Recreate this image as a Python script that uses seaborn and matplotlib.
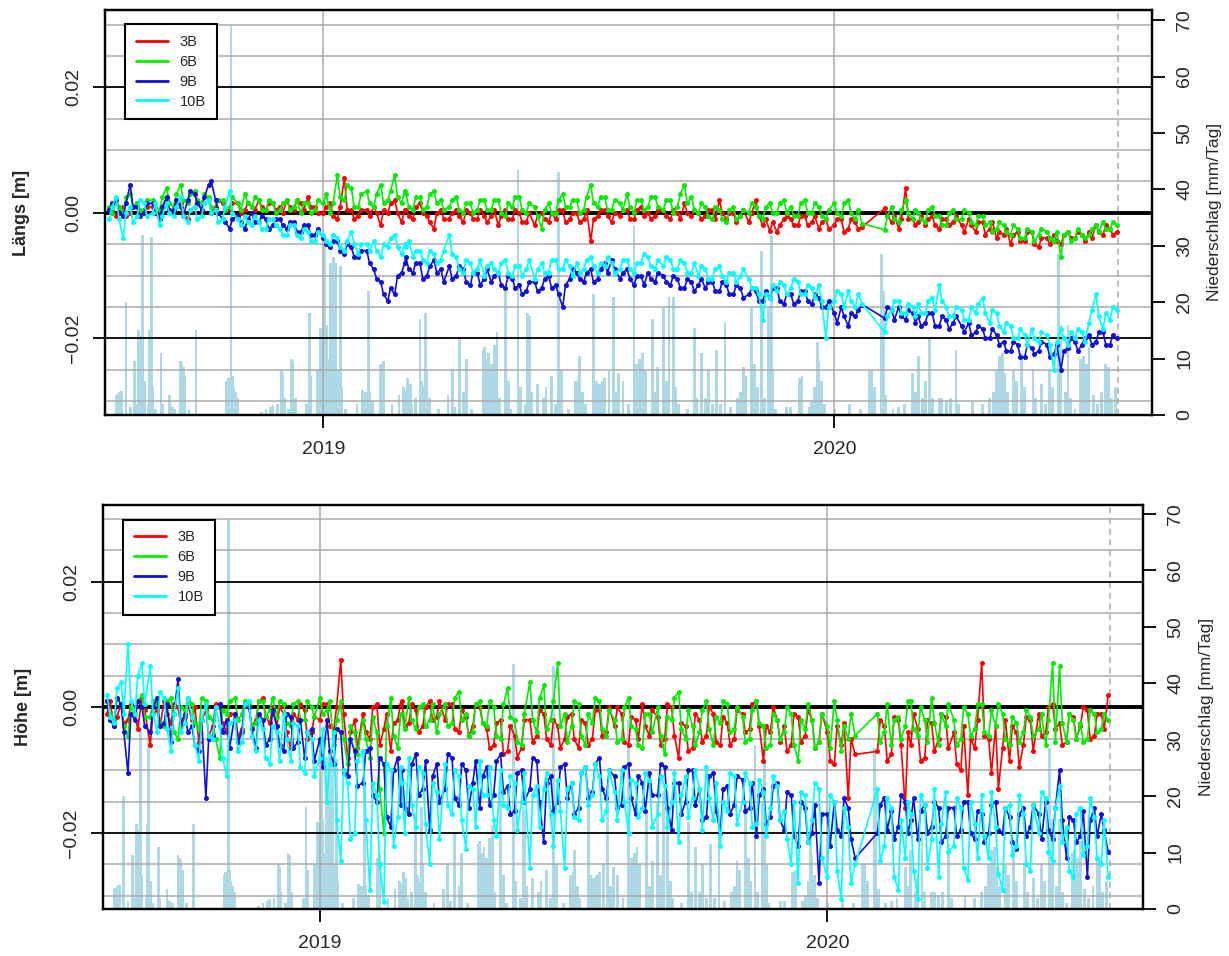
import numpy as np
import pandas as pd
import matplotlib
matplotlib.use("Agg")
import matplotlib.pyplot as plt
import seaborn as sns
from matplotlib.lines import Line2D

nan = np.nan

# sampling grid: twelve readings per month
months = pd.date_range("2018-08-01", "2020-07-01", freq="MS")
day_offsets = [0, 2, 5, 7, 10, 12, 15, 17, 20, 22, 25, 27]

sensors = ["3B", "6B", "9B", "10B"]
sensor_colors = {"3B": "#FF0000", "6B": "#00EE00", "9B": "#1010D8", "10B": "#00FFFF"}

# ---- Längs [mm], one row per month (2018-08 ... 2020-07) ----
laengs_3b = [
    0.5, 1.0, -0.5, 0.5, 1.0, -0.5, 0.0, 1.0, 1.5, 0.0, 0.5, 1.0,
    1.0, 0.0, -0.5, 1.0, 2.0, 0.5, 0.5, 1.5, 1.5, 0.0, -1.0, 0.5,
    1.0, 2.0, 0.5, 1.5, 2.0, 0.0, 1.0, 2.0, 1.5, 0.5, 0.5, 1.5,
    1.5, 0.0, 0.5, 1.5, 1.0, 0.5, 2.0, 1.0, 0.5, 1.5, 1.5, 0.5,
    1.0, 0.0, 2.0, 1.0, 0.5, 2.0, 1.5, 0.5, 2.5, 1.0, 1.0, 0.0,
    0.0, 1.0, 1.5, -0.5, -1.0, 1.0, 5.5, 0.5, 0.5, -1.0, -0.5, 0.5,
    0.5, -0.5, 1.0, 0.0, -2.0, 0.5, 0.0, 1.5, 2.0, 0.0, -1.5, 0.5,
    0.5, -0.5, -1.0, 1.0, 1.5, 0.0, -0.5, -1.5, -2.5, 0.0, 0.5, -1.0,
    -1.0, 0.0, 0.5, -0.5, -1.5, 0.5, 0.0, -1.0, -1.0, 0.5, -0.5, -1.5,
    -0.5, 0.5, -2.0, -0.5, 0.5, -1.0, -1.0, 0.5, 0.0, -1.5, -1.5, 0.0,
    -2.0, -0.5, 0.0, -1.0, -1.5, 0.0, -1.0, 0.5, 0.5, -1.5, -1.0, 0.0,
    0.0, -1.5, -1.0, 0.5, -4.5, -1.0, -0.5, 0.5, 0.5, -0.5, -1.5, 0.0,
    -0.5, 0.5, 0.5, -1.0, -1.0, 0.5, 1.0, -0.5, 0.0, -1.0, -0.5, 0.5,
    0.5, -0.5, -1.0, 0.5, 0.0, -1.0, 1.5, 0.0, -0.5, 0.5, 0.0, -1.0,
    -0.5, 0.5, 0.5, -1.0, 2.0, 0.0, -1.0, 0.0, 0.0, -1.5, -0.5, 0.5,
    -1.5, 0.0, 2.0, -0.5, -2.0, -1.0, -2.9, -1.5, -3.0, -2.0, -1.0, -0.5,
    -1.0, -2.0, -2.0, -0.5, -0.5, -2.0, -1.5, -0.5, -2.5, -1.5, -1.0, -2.5,
    -2.0, -1.0, -1.0, -3.0, -2.5, -1.0, -1.5, -2.5, -2.2, nan, nan, nan,
    nan, nan, 0.7, -0.5, -1.5, -0.5, -2.5, -1.0, 4.0, -1.0, -1.0, -2.0,
    -1.5, -0.5, -2.0, -1.0, -0.5, -2.0, -2.5, -1.0, -1.0, -2.0, -1.5, -0.5,
    -2.0, -3.0, -1.0, -2.0, -3.0, -1.5, -1.5, -3.5, -2.5, -1.5, -4.0, -3.0,
    -3.5, -2.5, -5.0, -3.5, -3.0, -4.5, -4.5, -3.0, -3.0, -5.0, -5.5, -4.0,
    -4.0, -5.0, -3.5, -4.5, -5.0, -3.5, -3.0, -4.0, -4.0, -3.0, -3.5, -4.5,
    -3.0, -4.0, -2.0, -3.0, -3.5, -2.0, -2.5, -3.5, -3.0, nan, nan, nan,
]
laengs_6b = [
    1.0, 0.0, 2.0, 1.0, 0.0, 2.5, 3.0, 1.0, 1.5, 0.5, 0.5, 2.0,
    2.0, 1.0, 0.5, 2.5, 4.0, 1.5, 1.0, 3.0, 4.5, 2.0, 1.5, 3.0,
    3.5, 2.0, 1.5, 3.0, 2.5, 1.0, 0.5, 2.0, 2.0, 0.5, 1.0, 2.5,
    1.5, 0.5, 3.0, 1.5, 1.0, 2.5, 2.0, 0.5, 0.5, 2.0, 1.5, 0.0,
    0.5, 1.5, 2.0, 0.5, 1.0, 2.0, 0.0, 1.5, 1.5, 0.0, 0.5, 2.0,
    1.5, 3.0, 0.0, 1.5, 6.0, 2.5, 2.0, 4.5, 4.0, 1.0, 1.0, 3.0,
    3.5, 1.5, 1.0, 3.0, 4.5, 1.5, 2.0, 3.5, 6.0, 2.5, 1.5, 3.5,
    3.0, 1.0, 0.5, 2.5, 2.5, 0.5, 1.0, 3.0, 3.5, 1.5, 2.0, 0.5,
    1.0, 2.0, 2.5, 0.5, 0.0, 1.5, 1.5, 0.0, 0.5, 2.0, 2.0, 0.5,
    0.5, 2.0, 2.0, 0.0, -0.5, 1.5, 1.0, 2.5, 2.5, 0.5, 0.0, 1.5,
    1.0, -0.5, -2.5, 0.5, 1.5, 0.0, 0.0, 2.0, 3.0, 1.0, 1.0, 2.0,
    2.0, 0.0, 0.5, 2.5, 4.5, 1.5, 1.0, 2.5, 2.5, 0.5, 0.5, 2.0,
    1.5, 0.5, 3.0, 1.0, 0.0, 2.0, 2.0, 0.5, 1.0, 2.5, 2.5, 1.0,
    0.5, 2.0, 2.0, 0.0, 1.0, 3.0, 4.5, 1.5, 2.5, 0.5, 0.0, 1.5,
    1.0, -0.5, -1.0, 1.0, 0.5, -1.0, -1.5, 0.5, 1.0, -1.0, -0.5, 0.5,
    0.0, 1.5, 1.0, -0.5, -1.0, 1.0, 1.5, 0.0, 0.0, 1.5, 2.0, 0.0,
    1.0, -0.5, -0.5, 1.5, 2.0, 0.0, 0.0, 1.5, 1.0, -0.5, -1.0, 0.5,
    1.5, 0.0, -0.5, 1.5, 2.0, 0.0, -1.0, 0.5, -1.7, nan, nan, nan,
    nan, nan, -2.7, -0.5, 1.0, -1.0, -1.5, 0.5, 2.0, 0.0, -1.0, 0.5,
    0.0, -1.0, -1.5, 0.5, 1.0, -0.5, -0.5, -2.0, -2.0, 0.0, 0.5, -1.0,
    -1.0, 0.5, 0.0, -1.5, -2.0, -0.5, -0.5, -2.0, -1.5, -3.0, -2.5, -1.5,
    -2.0, -3.0, -3.5, -2.0, -2.5, -4.0, -4.0, -2.5, -3.0, -4.5, -3.5, -2.5,
    -3.0, -4.0, -4.5, -3.0, -7.0, -3.5, -3.0, -4.5, -4.0, -2.5, -3.5, -4.0,
    -3.5, -2.5, -2.0, -3.0, -1.5, -2.5, -2.5, -1.5, -2.0, nan, nan, nan,
]
laengs_9b = [
    0.5, 1.5, 2.0, 0.0, -0.5, 1.5, 4.5, 1.0, 1.0, -0.5, 0.0, 1.5,
    1.5, 0.0, -1.0, 1.0, 2.5, 0.5, 0.5, 2.0, 1.0, -0.5, 2.0, 3.5,
    3.0, 1.5, 0.5, 2.5, 4.5, 5.0, 2.0, 0.0, -1.0, -1.5, -2.5, -1.0,
    -0.5, -1.5, -2.5, -1.0, 0.0, -1.5, -1.5, -0.5, -1.0, -2.5, -2.0, -1.0,
    -1.0, -2.0, -2.5, -1.5, -1.5, -3.0, -3.0, -2.0, -2.0, -3.5, -3.5, -2.5,
    -4.0, -5.0, -5.5, -4.5, -4.5, -6.0, -6.5, -5.0, -5.5, -7.0, -7.0, -6.0,
    -6.0, -8.0, -9.0, -10.5, -11.0, -13.0, -14.0, -12.0, -13.0, -10.0, -9.5, -8.0,
    -7.0, -9.0, -9.5, -8.0, -8.0, -10.5, -10.0, -8.5, -7.5, -9.5, -9.0, -11.0,
    -8.5, -10.5, -10.0, -8.5, -9.0, -11.0, -11.5, -9.5, -9.5, -11.5, -10.5, -9.0,
    -11.0, -10.0, -9.5, -11.5, -12.0, -10.0, -10.5, -12.0, -11.5, -13.0, -12.5, -11.0,
    -11.0, -12.5, -12.0, -10.5, -10.0, -12.0, -11.5, -13.0, -15.0, -11.5, -10.5, -9.0,
    -9.5, -10.5, -11.0, -9.5, -9.0, -11.0, -10.5, -9.0, -8.0, -9.5, -7.5, -9.0,
    -10.5, -9.5, -9.0, -10.5, -11.5, -10.0, -10.0, -11.5, -9.5, -10.5, -11.0, -9.5,
    -10.0, -11.0, -11.5, -10.0, -10.5, -12.0, -12.0, -10.5, -11.0, -12.5, -11.5, -10.5,
    -12.0, -11.0, -11.0, -12.5, -12.5, -11.0, -11.5, -13.0, -13.0, -11.5, -12.0, -13.5,
    -13.0, -12.0, -12.5, -14.0, -14.0, -12.5, -13.5, -12.0, -12.0, -14.0, -14.5, -13.0,
    -13.0, -14.5, -14.0, -12.5, -12.5, -14.0, -14.5, -13.0, -13.5, -15.0, -15.0, -14.0,
    -16.0, -17.5, -15.0, -16.5, -18.0, -16.0, -16.5, -15.5, -14.6, nan, nan, nan,
    nan, nan, -16.8, -15.0, -15.5, -17.0, -15.0, -16.5, -17.0, -15.5, -16.0, -17.5,
    -16.5, -18.0, -17.5, -16.0, -16.0, -18.0, -18.0, -16.5, -17.0, -18.5, -17.5, -16.5,
    -18.0, -19.0, -17.5, -19.5, -19.0, -18.0, -18.5, -20.0, -20.0, -18.5, -19.5, -21.0,
    -20.5, -22.0, -22.0, -20.5, -21.0, -23.0, -23.0, -21.0, -21.5, -22.5, -22.0, -20.5,
    -21.0, -23.0, -22.5, -21.0, -25.0, -22.0, -21.5, -20.0, -20.5, -22.0, -21.0, -20.0,
    -19.5, -21.0, -20.5, -19.0, -19.0, -21.0, -21.0, -19.5, -20.0, nan, nan, nan,
]
laengs_10b = [
    -1.0, 1.0, 2.5, -1.0, -4.0, 0.0, 1.0, -1.5, -0.5, 2.0, 1.5, -0.5,
    0.0, 1.5, -2.0, -0.5, 1.5, 0.0, -0.5, 1.0, 2.5, -0.5, -1.5, 0.5,
    1.0, -1.0, -0.5, 1.5, 2.0, 0.0, 0.5, -1.5, -1.0, 1.0, 3.5, 0.0,
    -1.0, -2.0, -0.5, -1.5, -2.0, -0.5, -1.5, -2.5, -2.5, -1.0, -1.0, -2.0,
    -2.5, -3.5, -3.5, -2.0, -2.0, -3.5, -4.0, -2.5, -3.0, -4.5, -4.5, -3.0,
    -3.5, -4.5, -5.0, -3.5, -4.0, -5.5, -6.0, -4.5, -3.0, -5.0, -6.5, -5.0,
    -5.0, -6.0, -4.5, -6.0, -7.0, -5.0, -5.5, -4.0, -3.5, -5.5, -6.5, -5.0,
    -5.5, -4.5, -7.0, -6.0, -6.0, -7.5, -8.0, -6.0, -6.5, -8.0, -7.5, -6.0,
    -3.5, -6.5, -7.0, -9.0, -9.5, -7.5, -8.0, -9.5, -9.0, -7.5, -10.0, -8.5,
    -8.0, -9.0, -9.5, -8.0, -7.5, -9.5, -10.0, -8.5, -8.5, -10.0, -9.0, -7.5,
    -10.5, -9.0, -8.0, -9.5, -9.5, -7.5, -7.5, -9.0, -9.0, -7.5, -8.5, -10.0,
    -8.0, -9.5, -9.0, -7.5, -7.0, -8.5, -9.5, -8.0, -8.5, -7.0, -8.0, -9.5,
    -9.0, -7.5, -7.5, -9.0, -9.5, -8.0, -8.0, -6.5, -7.0, -8.5, -9.0, -7.5,
    -8.5, -7.0, -7.5, -9.0, -9.0, -7.5, -8.0, -9.5, -9.5, -8.0, -10.0, -8.5,
    -9.0, -10.5, -10.5, -9.0, -8.5, -10.0, -11.0, -9.5, -9.5, -11.0, -10.0, -9.0,
    -10.5, -12.0, -12.0, -13.0, -17.0, -13.0, -13.5, -11.5, -12.5, -11.0, -11.5, -13.0,
    -12.0, -10.5, -11.0, -13.0, -13.0, -11.5, -12.0, -13.5, -11.5, -14.0, -20.0, -15.0,
    -14.0, -12.5, -13.0, -15.0, -12.5, -14.0, -15.0, -13.0, -14.5, nan, nan, nan,
    nan, nan, -19.0, -16.5, -15.5, -14.0, -14.0, -16.0, -16.0, -14.5, -15.0, -16.5,
    -14.5, -16.0, -16.0, -14.0, -13.5, -15.5, -11.5, -14.0, -15.0, -16.5, -16.5, -15.0,
    -15.5, -17.0, -17.0, -15.0, -16.0, -14.5, -13.5, -16.0, -17.5, -15.5, -16.0, -18.0,
    -19.0, -17.5, -18.0, -20.0, -20.0, -18.5, -19.5, -21.0, -18.5, -20.0, -20.5, -19.0,
    -19.5, -21.0, -25.0, -20.5, -18.5, -20.0, -21.0, -19.0, -20.0, -18.5, -19.0, -20.5,
    -17.5, -15.5, -13.0, -16.5, -18.5, -16.0, -17.0, -15.0, -15.5, nan, nan, nan,
]

# ---- Höhe [mm], one row per month (2018-08 ... 2020-07) ----
hoehe_3b = [
    -1.0, 1.0, -3.0, -1.5, 0.5, -2.5, -2.0, 0.5, -1.0, -3.5, 1.5, -0.5,
    -6.0, -1.0, -0.5, -3.0, 1.0, -1.0, -2.5, 0.5, 0.0, -3.0, -1.5, 0.5,
    -2.0, 0.0, -5.5, -2.0, -0.5, -4.5, -3.0, 0.5, 0.5, -2.5, -4.0, -1.0,
    -1.0, -4.5, -3.5, 0.5, 0.0, -3.0, -2.0, 1.0, 1.5, -1.5, -2.5, 0.0,
    -3.0, 0.0, -1.0, -4.0, -6.5, -1.0, -2.0, 0.5, -0.5, -5.0, -4.0, -1.5,
    -2.0, 0.5, 0.5, -3.0, -3.5, 0.0, 7.5, -1.0, -8.0, -4.0, -2.0, -6.5,
    -1.0, -4.0, -5.0, 0.0, 0.5, -6.0, -3.5, -1.0, -7.0, -2.5, -2.0, 0.5,
    1.0, -3.0, -2.5, 0.5, -0.5, -4.0, -3.0, 0.0, 1.0, -2.0, -1.5, 1.0,
    -2.0, 0.5, 0.5, -3.5, -4.0, -0.5, -1.5, -4.5, -3.0, 0.5, 0.0, -2.5,
    -3.5, -6.5, -6.0, -2.5, -2.0, -7.5, -7.0, -3.0, -4.5, -8.0, -6.5, -2.0,
    -2.0, -5.5, -4.5, -0.5, -1.0, -5.0, -6.0, -2.0, -3.0, -6.5, -5.0, -1.5,
    -1.0, -5.0, -6.5, -2.0, -2.5, -6.0, -5.0, -0.5, -0.5, -4.5, -4.0, 0.0,
    -3.0, 0.0, -1.0, -5.5, -6.0, -1.5, -2.0, -5.0, 0.5, -3.0, -4.5, -0.5,
    -1.5, -6.0, -5.0, 0.5, 0.0, -4.5, -8.0, -2.5, -3.0, -7.0, -6.5, -1.0,
    -2.0, -5.5, -4.5, 0.0, -1.0, -5.5, -6.0, -1.5, -2.5, -6.0, -5.0, -0.5,
    -1.0, -4.0, -3.5, 0.5, 1.0, -3.0, -8.5, -3.0, -4.0, 0.0, -2.0, -5.5,
    -3.0, -7.0, -6.0, -1.0, -1.5, -5.5, -4.5, -0.5, -2.0, -6.5, -5.5, -1.0,
    -4.0, -8.5, -9.0, -3.0, -6.0, -2.5, -14.5, -5.0, -7.5, nan, nan, nan,
    nan, nan, -7.0, -2.0, -3.0, -8.5, -7.5, -1.5, -2.0, -6.0, -16.0, -4.0,
    -6.0, -1.0, -3.5, -8.5, -8.0, -2.0, -2.5, -7.0, -5.0, -1.0, -1.5, -6.5,
    -4.0, -9.0, -10.0, -3.0, -14.0, -5.0, -6.5, -2.0, 7.0, -4.5, -5.0, -10.5,
    -3.0, -13.0, -6.5, -2.0, -8.5, -3.0, -4.0, -9.5, -6.0, -1.5, -2.0, -7.0,
    -1.0, -4.5, -4.0, 0.0, 0.5, -3.5, -2.5, -6.0, -5.5, -1.0, -1.5, -5.0,
    -3.0, 0.0, -0.5, -5.0, -4.5, -1.0, -1.0, -3.5, 2.0, nan, nan, nan,
]
hoehe_6b = [
    1.0, -1.0, -2.0, 1.5, 0.5, -3.0, -4.5, 0.0, -1.0, 1.0, 2.0, -1.5,
    -1.5, 1.0, 0.5, -2.5, -3.0, 1.0, 1.5, -4.0, -5.0, 0.0, -0.5, 1.5,
    0.5, -2.5, -3.5, 1.5, 1.0, -1.5, -2.0, -5.0, -8.0, -0.5, -1.0, 1.0,
    1.5, -2.0, -1.0, 1.0, 0.5, -3.0, -2.5, 1.0, 1.0, -1.5, -0.5, 1.5,
    -1.5, 1.0, 0.5, -2.5, -3.0, 0.5, 1.0, -2.0, -2.0, 1.0, 0.0, -1.5,
    1.5, -1.0, -0.5, 1.0, -6.0, -2.0, 1.0, -5.0, -9.0, -3.0, -4.0, -7.5,
    -2.0, -5.0, -8.0, -1.5, -4.0, -13.0, -20.0, -3.0, 1.5, -4.5, -6.5, -1.0,
    -1.0, -3.5, 1.5, -2.0, -3.5, 0.0, 0.5, -3.0, -2.0, 0.5, -4.0, -1.0,
    0.5, -3.0, -2.5, 1.5, 2.5, -2.0, -1.0, -4.5, -4.0, 0.5, 1.0, -2.5,
    -3.0, 1.0, 0.0, -4.5, -5.0, 0.5, 3.0, -1.5, -2.0, -5.5, -6.0, -1.0,
    4.0, -2.0, -4.0, 1.5, 3.5, -3.5, -2.0, 1.0, 7.0, -3.0, -1.0, -5.5,
    -3.0, 1.0, 0.5, -4.5, -6.0, -1.0, -2.5, 1.5, 1.0, -3.5, -4.5, -0.5,
    -2.0, -5.5, -5.0, 0.0, 1.5, -3.0, -3.5, -6.0, -6.5, -1.0, -1.0, -4.0,
    0.0, -4.5, -7.5, -1.5, -2.0, 1.5, 2.5, -3.5, -5.0, -0.5, -3.0, -6.0,
    -4.0, -0.5, 1.0, -3.5, -6.0, -1.5, -2.5, 1.0, 0.5, -4.0, -3.5, 0.0,
    -1.5, -5.5, -5.0, -0.5, 1.0, -2.5, -3.0, -6.5, -6.0, -1.0, -2.0, -5.0,
    -4.0, 0.0, -1.0, -6.0, -8.5, -2.0, -3.5, 0.5, -2.0, -6.5, -5.5, -1.0,
    -3.0, -6.5, 1.0, -2.0, -7.0, -3.0, -5.0, -1.0, -4.5, nan, nan, nan,
    nan, nan, -1.0, -5.5, -4.0, 0.5, -6.0, -2.0, -1.5, -5.0, -3.0, 1.0,
    1.0, -3.5, -4.5, 0.0, -2.0, -5.5, 1.5, -2.5, -6.0, -1.0, -3.0, 0.5,
    -2.0, -6.0, -5.0, 0.0, -1.0, -4.5, -3.5, 0.5, 0.5, -4.0, -4.5, -0.5,
    -3.0, 0.5, -1.0, -5.0, -6.0, -1.5, -2.5, -5.5, -4.0, -0.5, -1.5, -4.5,
    -3.5, -1.0, -6.0, -2.0, 7.0, -5.5, 6.5, -2.5, -5.5, -1.0, -2.0, -5.0,
    -2.5, -5.5, -5.0, -0.5, -1.0, -4.0, -3.5, -1.0, -2.0, nan, nan, nan,
]
hoehe_9b = [
    1.0, -2.0, -3.0, 1.5, 0.5, -4.0, -10.5, -1.0, -2.0, 1.0, 0.0, -3.0,
    -4.0, 0.0, 1.5, -3.0, -2.5, 0.5, -5.5, -1.0, 4.5, -2.5, -1.0, -4.0,
    -3.0, -6.0, -7.0, -2.0, -14.5, -5.0, -4.5, 0.0, 0.5, -4.0, -2.0, -6.5,
    -1.0, -5.5, -4.0, 0.5, 0.0, -3.5, -6.5, -1.0, -2.0, -6.0, -5.0, -0.5,
    -3.0, -6.0, -7.0, -1.0, -1.5, -6.5, -5.5, -2.0, -8.0, -4.0, -3.5, -8.5,
    -5.0, -9.5, -2.0, -7.0, -9.0, -3.5, -4.0, -10.5, -11.0, -5.0, -7.0, -12.5,
    -12.0, -7.0, -6.5, -14.0, -15.0, -8.0, -9.0, -17.5, -19.0, -10.0, -8.0, -15.5,
    -10.0, -16.0, -17.0, -9.0, -7.5, -14.0, -13.0, -8.5, -19.5, -11.0, -9.0, -15.0,
    -13.0, -7.5, -8.0, -14.5, -15.5, -9.0, -10.0, -16.0, -12.0, -8.5, -16.0, -11.0,
    -9.5, -15.5, -14.0, -8.5, -7.5, -13.5, -12.5, -17.0, -16.5, -10.5, -10.0, -15.0,
    -13.0, -8.0, -8.5, -15.0, -21.5, -12.0, -11.0, -16.5, -15.0, -9.5, -9.0, -14.5,
    -12.0, -17.0, -16.0, -10.5, -9.5, -14.5, -13.5, -9.0, -8.0, -13.0, -14.5, -10.0,
    -11.0, -16.0, -15.5, -9.5, -9.0, -14.5, -17.0, -11.0, -12.0, -16.5, -10.5, -14.0,
    -14.0, -9.0, -9.5, -16.0, -19.5, -12.0, -12.0, -17.0, -15.0, -10.0, -10.0, -15.5,
    -13.0, -18.0, -17.5, -11.0, -10.5, -16.5, -20.0, -13.0, -12.5, -17.0, -15.5, -11.0,
    -11.5, -16.5, -16.0, -12.0, -20.5, -14.0, -13.0, -18.5, -17.5, -12.5, -12.0, -18.0,
    -19.5, -13.5, -14.0, -20.5, -22.0, -15.0, -16.0, -21.5, -20.0, -15.5, -28.0, -17.0,
    -17.0, -22.0, -15.0, -19.5, -20.5, -14.5, -16.0, -21.0, -24.0, nan, nan, nan,
    nan, nan, -20.0, -15.5, -14.5, -19.5, -16.5, -21.0, -19.0, -14.0, -15.0, -20.0,
    -18.0, -14.5, -21.0, -16.5, -15.5, -20.0, -19.0, -15.0, -16.0, -21.5, -20.5, -16.0,
    -16.0, -20.5, -19.5, -15.0, -15.0, -20.0, -21.0, -16.5, -17.0, -21.5, -20.0, -15.5,
    -15.0, -19.5, -20.0, -16.0, -17.5, -21.5, -22.5, -17.0, -16.0, -20.5, -19.0, -15.5,
    -17.0, -21.0, -15.0, -19.5, -21.0, -16.0, -10.0, -18.0, -24.0, -17.5, -18.0, -21.5,
    -20.5, -16.5, -27.0, -18.0, -16.0, -20.5, -17.0, -19.5, -23.0, nan, nan, nan,
]
hoehe_10b = [
    2.0, -1.5, -2.5, 3.0, 4.0, -1.0, 10.0, 1.0, -1.0, 5.0, 7.0, 0.5,
    6.5, -1.0, -4.0, 2.5, 1.5, -3.5, -7.0, -1.0, 3.0, -4.0, -2.5, 1.5,
    -1.5, -6.0, -8.5, -2.0, 0.5, -4.5, -5.0, 0.0, -3.0, -8.0, -11.0, -2.5,
    -2.0, -7.0, -5.5, 0.5, 1.0, -4.5, -7.0, -2.0, -3.5, -8.0, -9.0, -3.0,
    -4.0, -8.5, -1.0, -5.0, -8.5, -2.5, -3.0, -9.5, -10.5, -4.0, -5.0, -11.0,
    -8.0, -3.5, -15.0, -9.0, -4.0, -18.0, -24.5, -10.0, -12.0, -21.0, -20.0, -8.5,
    -7.0, -18.0, -29.0, -12.0, -14.0, -25.0, -31.0, -9.0, -10.0, -22.0, -17.5, -9.5,
    -12.0, -20.0, -8.0, -15.5, -19.0, -9.5, -10.5, -18.5, -25.0, -12.0, -13.5, -21.0,
    -9.0, -15.5, -17.0, -10.0, -11.0, -18.0, -22.5, -12.5, -13.0, -19.0, -8.5, -14.0,
    -14.0, -9.5, -18.0, -20.5, -10.0, -15.5, -16.0, -11.0, -12.0, -19.5, -15.0, -10.5,
    -25.5, -14.0, -12.5, -19.0, -13.0, -10.5, -17.0, -22.0, -11.5, -16.5, -25.5, -13.0,
    -12.0, -17.5, -18.0, -10.5, -9.5, -15.5, -14.0, -9.0, -11.0, -18.0, -16.5, -10.0,
    -13.5, -18.0, -10.0, -15.0, -20.0, -11.5, -12.0, -17.5, -16.0, -10.5, -11.5, -19.0,
    -17.0, -11.0, -12.5, -19.0, -15.0, -10.5, -21.5, -14.0, -11.0, -17.5, -14.5, -10.0,
    -13.0, -19.5, -9.5, -14.5, -18.0, -12.0, -22.0, -15.0, -16.5, -10.5, -11.0, -18.5,
    -15.0, -10.5, -12.0, -19.0, -18.5, -11.5, -13.5, -20.5, -16.0, -11.0, -12.5, -18.0,
    -16.5, -21.0, -25.0, -15.0, -28.0, -13.5, -14.0, -21.5, -18.0, -12.0, -13.0, -24.0,
    -27.0, -14.0, -15.0, -26.0, -30.5, -16.0, -19.0, -28.0, -25.0, nan, nan, nan,
    nan, nan, -13.0, -24.5, -22.0, -14.5, -16.0, -27.0, -29.0, -18.0, -24.0, -15.0,
    -17.0, -26.0, -30.5, -14.0, -15.5, -25.5, -21.0, -13.0, -27.0, -18.5, -13.5, -23.0,
    -22.0, -14.5, -16.0, -25.5, -27.5, -15.0, -18.5, -24.0, -14.0, -20.5, -24.0, -13.5,
    -19.0, -26.5, -29.0, -16.0, -15.5, -23.5, -22.0, -14.0, -17.0, -25.0, -26.0, -15.5,
    -20.0, -13.5, -14.5, -23.0, -24.5, -16.0, -12.5, -21.5, -19.0, -26.0, -27.0, -17.0,
    -16.0, -23.5, -22.0, -14.5, -17.5, -24.0, -25.0, -18.0, -27.0, nan, nan, nan,
]

# ---- Niederschlag: day since 2018-07-29, mm/Tag ----
rain_day = [8, 9, 10, 11, 12, 15, 18, 21, 23, 24, 25, 27, 28, 31, 32, 33, 34, 36, 40, 41,
            46, 48, 50, 54, 55, 56, 57, 60, 65, 87, 88, 89, 90, 91, 92, 93, 95, 112, 115, 118,
            120, 123, 126, 127, 128, 131, 133, 134, 136, 144, 146, 147, 152, 154, 155, 157, 158, 159, 161, 162,
            163, 164, 165, 166, 168, 169, 172, 180, 184, 186, 188, 189, 191, 197, 198, 199, 205, 210, 213, 214,
            216, 218, 219, 222, 225, 226, 227, 229, 230, 232, 238, 245, 248, 250, 253, 256, 258, 262, 270, 271,
            272, 274, 276, 278, 280, 282, 286, 288, 290, 295, 297, 300, 302, 303, 305, 309, 313, 315, 319, 322,
            324, 326, 331, 336, 338, 339, 341, 343, 349, 351, 353, 355, 357, 360, 363, 365, 367, 370, 374, 378,
            380, 382, 384, 386, 391, 393, 395, 399, 401, 403, 406, 408, 410, 416, 421, 423, 426, 429, 431, 434,
            437, 440, 443, 447, 452, 454, 456, 458, 462, 464, 466, 469, 471, 474, 476, 477, 479, 487, 490, 496,
            498, 503, 505, 507, 509, 510, 512, 514, 521, 532, 540, 546, 548, 550, 555, 556, 558, 563, 567, 571,
            577, 579, 581, 584, 586, 589, 591, 596, 598, 601, 604, 608, 610, 620, 627, 632, 635, 637, 639, 641,
            643, 645, 649, 651, 655, 657, 663, 665, 669, 672, 675, 677, 681, 683, 686, 688, 690, 693, 697, 699,
            701, 703, 706, 709, 712, 715, 717, 719, 722]
rain_mm = [3.5, 3.8, 4.0, 3.6, 4.2, 20.0, 1.5, 9.5, 2.0, 15.0, 14.0, 32.0, 6.0, 2.0, 15.0, 31.5, 5.0, 1.0, 11.0, 2.0,
           3.5, 1.5, 1.0, 9.5, 9.0, 8.5, 7.0, 1.0, 15.0, 6.0, 6.5, 5.5, 69.0, 7.0, 5.0, 4.0, 3.0, 0.5, 1.0, 1.5,
           1.8, 2.0, 8.0, 7.5, 3.0, 1.0, 10.0, 9.5, 3.0, 2.0, 18.0, 7.0, 8.0, 15.5, 12.0, 30.5, 16.0, 10.0, 27.0, 20.0,
           28.0, 12.0, 27.0, 8.0, 26.5, 5.0, 1.0, 2.0, 4.5, 4.0, 22.0, 4.0, 2.5, 9.0, 4.0, 9.5, 2.0, 3.5, 5.0, 4.5,
           6.5, 5.5, 2.0, 3.0, 17.0, 6.0, 5.0, 18.0, 8.0, 3.0, 1.0, 3.5, 8.0, 1.5, 13.5, 4.0, 10.0, 1.0, 11.5, 12.0,
           10.0, 11.0, 9.0, 12.5, 14.8, 3.0, 22.0, 6.0, 1.0, 43.5, 5.0, 2.0, 18.0, 17.5, 4.0, 5.5, 3.0, 5.0, 7.0, 2.0,
           43.0, 8.0, 1.0, 6.0, 6.5, 10.5, 4.0, 2.0, 21.5, 6.0, 5.5, 6.0, 6.5, 8.0, 21.0, 4.0, 7.5, 6.0, 2.0, 33.5,
           9.0, 10.0, 11.0, 8.0, 17.0, 4.0, 8.5, 19.0, 6.0, 21.0, 21.0, 5.0, 2.0, 1.0, 15.5, 3.0, 11.0, 3.0, 8.0, 2.0,
           11.5, 2.0, 16.5, 1.5, 3.0, 4.0, 8.5, 7.0, 19.0, 9.0, 5.0, 29.0, 3.0, 19.0, 32.0, 8.0, 1.0, 1.5, 1.5, 6.5,
           7.0, 1.5, 2.5, 5.0, 13.0, 9.5, 6.0, 2.0, 1.0, 2.0, 1.0, 8.0, 8.0, 5.0, 28.5, 22.0, 3.5, 1.0, 1.5, 2.0,
           7.5, 4.0, 10.5, 3.0, 6.0, 13.5, 3.0, 3.0, 3.0, 2.5, 3.0, 11.5, 2.0, 2.5, 2.0, 3.0, 4.0, 8.0, 10.5, 11.0,
           7.5, 4.0, 7.8, 6.0, 11.0, 5.0, 8.0, 3.0, 5.5, 2.0, 8.0, 5.0, 28.5, 16.0, 4.0, 16.0, 3.0, 1.0, 10.0, 10.5,
           9.0, 12.0, 3.5, 2.0, 4.0, 9.0, 8.5, 3.0, 5.0]

sample_dates = [m + pd.Timedelta(days=o) for m in months for o in day_offsets]
rain_dates = pd.Timestamp("2018-07-29") + pd.to_timedelta(rain_day, unit="D")
x_start, x_end = pd.Timestamp("2018-07-29"), pd.Timestamp("2020-08-15")


def long_frame(cols):
    parts = []
    for name, vals in zip(sensors, cols):
        assert len(vals) == len(sample_dates), (name, len(vals))
        d = pd.DataFrame({"date": sample_dates, "value": np.array(vals) / 1000.0, "sensor": name})
        parts.append(d.dropna())
    return pd.concat(parts, ignore_index=True)


laengs = long_frame([laengs_3b, laengs_6b, laengs_9b, laengs_10b])
hoehe = long_frame([hoehe_3b, hoehe_6b, hoehe_9b, hoehe_10b])

sns.set_theme(style="white")
plt.rcParams["font.family"] = ["Liberation Sans", "DejaVu Sans"]
plt.rcParams.update({"xtick.bottom": True, "ytick.left": True, "ytick.right": True,
                     "xtick.direction": "out", "ytick.direction": "out"})

W, H = 1229, 956
fig = plt.figure(figsize=(W / 100, H / 100), dpi=100)


def panel(box, df, ylab, ylim_m, ylim_r, lab_xy, rlab_xy):
    l, t, r, b = box
    ax_r = fig.add_axes([l / W, 1 - b / H, (r - l) / W, (b - t) / H])
    ax = ax_r.twinx()

    ax_r.bar(rain_dates, rain_mm, width=2.0, color="#ADD8E6", linewidth=0)
    ax_r.set_ylim(*ylim_r)

    for v in (-0.03, -0.025, -0.015, -0.01, -0.005, 0.005, 0.01, 0.015, 0.025, 0.03):
        ax.axhline(v, color="#ABABAB", lw=1.1, zorder=1)
    for v in (-0.02, 0.02):
        ax.axhline(v, color="black", lw=1.3, zorder=1.5)
    ax.axhline(0, color="black", lw=2.8, zorder=1.5)
    for d in ("2019-01-01", "2020-01-01"):
        ax.axvline(pd.Timestamp(d), color="#ABABAB", lw=1.1, zorder=1)
    ax.axvline(pd.Timestamp("2020-07-22"), color="#ABABAB", lw=1.1, ls=(0, (4, 3)), zorder=1)

    sns.lineplot(data=df, x="date", y="value", hue="sensor", hue_order=sensors,
                 palette=sensor_colors, marker="o", markersize=3.6, markeredgewidth=0,
                 linewidth=1.2, estimator=None, sort=False, legend=False, ax=ax, zorder=3)
    ax.set_ylim(*ylim_m)
    ax.set_xlim(x_start, x_end)
    ax.set_xlabel("")
    ax.set_ylabel("")

    # axes / ticks, R style
    ax.yaxis.tick_left()
    ax.set_yticks([-0.02, 0.0, 0.02], labels=["\u22120.02", "0.00", "0.02"])
    ax.tick_params(axis="y", length=9, width=1.3, pad=7.5, labelsize=14, labelrotation=90, color="black")
    for tl in ax.get_yticklabels():
        tl.set_va("center")
    ax_r.yaxis.tick_right()
    ax_r.set_yticks(range(0, 71, 10))
    ax_r.tick_params(axis="y", length=9, width=1.3, pad=8.5, labelsize=14, labelrotation=90, color="black")
    for tl in ax_r.get_yticklabels():
        tl.set_va("center")
    ax_r.set_xticks([pd.Timestamp("2019-01-01"), pd.Timestamp("2020-01-01")], labels=["2019", "2020"])
    ax_r.tick_params(axis="x", length=9.5, width=1.3, pad=9, labelsize=14, bottom=True, color="black")
    for a in (ax_r, ax):
        for s in a.spines.values():
            s.set_color("black")
            s.set_linewidth(1.6)

    fig.text(lab_xy[0] / W, 1 - lab_xy[1] / H, ylab, rotation=90, ha="center", va="center",
             fontsize=13, fontweight="bold")
    fig.text(rlab_xy[0] / W, 1 - rlab_xy[1] / H, "Niederschlag [mm/Tag]", rotation=90,
             ha="center", va="center", fontsize=12.5)

    handles = [Line2D([], [], color=sensor_colors[s], lw=2) for s in sensors]
    leg = ax.legend(handles, sensors, loc="upper left", bbox_to_anchor=(0.019, 0.964),
                    borderaxespad=0, fontsize=10.5, frameon=True, fancybox=False,
                    framealpha=1, edgecolor="black", handlelength=2.2, handletextpad=0.8,
                    labelspacing=0.4, borderpad=0.75)
    leg.get_frame().set_linewidth(1.5)
    leg.set_zorder(10)


panel((105, 9.5, 1152, 415), laengs, "Längs [m]", (-0.0322, 0.0324), (0, 71.9), (22, 213), (1215, 212))
panel((103, 505, 1143, 909), hoehe, "Höhe [m]", (-0.0321, 0.0322), (0, 71.6), (24, 707), (1207, 707))

fig.savefig("out.png", dpi=100)
